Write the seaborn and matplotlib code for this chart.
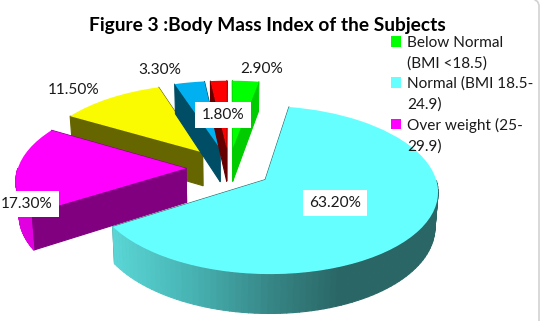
import numpy as np
import matplotlib
matplotlib.use("Agg")
import matplotlib.pyplot as plt
from matplotlib.collections import PolyCollection
from matplotlib.patches import Patch
from matplotlib.transforms import Transform
import seaborn as sns

legend_lines = ["Below Normal", "(BMI <18.5)", "Normal (BMI 18.5-", "24.9)", "Over weight (25-", "29.9)"]
values = [2.9, 63.2, 17.3, 11.5, 3.3, 1.8]
value_text = ["2.90%", "63.20%", "17.30%", "11.50%", "3.30%", "1.80%"]
top_colors = ["#00FF00", "#66FFFF", "#FF00FF", "#FAFA00", "#00B0F0", "#FF0000"]
side_colors = ["#00CC00", "#2A6666", "#800080", "#666600", "#004D66", "#660000"]
rim_colors = ["#00CC00", "#2A6666", "#E000E0", "#666600", "#004D66", "#660000"]

CX, CY, RX, RY, K, DEPTH, XS = 229.0, 168.0, 168.0, 80.0, 0.12, 34.0, 0.985


class Plane(Transform):
    input_dims = 2
    output_dims = 2

    def __init__(self, z=0.0):
        super().__init__()
        self.z = z

    def transform_non_affine(self, values):
        values = np.asarray(values, dtype=float)
        u, v = values[:, 0], values[:, 1]
        w = 1 + K * v
        sx = CX + RX * (1 - (1 - XS) * self.z) * u / w
        sy = CY + (-RY * v + DEPTH * self.z) / w
        return np.column_stack([sx, sy])


sns.set_theme(style="white")
plt.rcParams["font.family"] = ["Lato", "DejaVu Sans"]
fig = plt.figure(figsize=(5.4, 3.21), dpi=100, facecolor="white")
ax = fig.add_axes([0, 0, 1, 1])

wedges, _ = ax.pie(values, explode=[0.256] * len(values), colors=sns.color_palette(top_colors),
                   startangle=90, counterclock=False, radius=1.0)
ax.set_aspect("auto")
ax.set_xlim(0, 540)
ax.set_ylim(321, 0)
ax.axis("off")

top = Plane(0.0)
bottom = Plane(1.0)


def wall(points):
    """Quads hanging from a polyline given in the pie plane."""
    a = top.transform_non_affine(points)
    b = bottom.transform_non_affine(points)
    return [np.array([a[i], a[i + 1], b[i + 1], b[i]]) for i in range(len(points) - 1)]


def cyan_shade(x):
    xs = [110, 190, 270, 340, 440]
    r = np.interp(x, xs, [92, 72, 55, 42, 42])
    g = np.interp(x, xs, [216, 180, 135, 102, 102])
    return (r / 255, g / 255, g / 255)


order = [3, 4, 5, 0, 2, 1]
for z, i in enumerate(order):
    w = wedges[i]
    c = np.array(w.center)
    ang = np.radians(np.linspace(w.theta1, w.theta2, 120))
    rim = np.column_stack([c[0] + np.cos(ang), c[1] + np.sin(ang)])
    mask = np.sin(ang) < 0
    quads, faces = [], []
    # straight cut faces
    for a in (w.theta1, w.theta2):
        edge = np.array([np.cos(np.radians(a)), np.sin(np.radians(a))])
        q = wall(np.array([c, c + edge]))
        quads += q
        faces += [side_colors[i]]
    # curved outer face
    if mask.any():
        idx = np.where(mask)[0]
        q = wall(rim[idx[0]:idx[-1] + 1])
        quads += q
        if i == 1:
            faces += [cyan_shade(p[:, 0].mean()) for p in q]
        else:
            faces += [rim_colors[i]] * len(q)
    coll = PolyCollection(quads, facecolors=faces, edgecolors=faces, linewidths=0.8,
                          zorder=2 + z * 2, transform=ax.transData)
    ax.add_collection(coll)
    w.set_transform(top + ax.transData)
    w.set_zorder(3 + z * 2)
    w.set_linewidth(0)

label_xy = [(262, 69), (335, 203), (27, 204), (74, 90), (160, 70), (223, 115)]
boxed = [False, True, True, False, False, True]
for t, (x, y), b in zip(value_text, label_xy, boxed):
    kw = dict(bbox=dict(facecolor="white", edgecolor="none", boxstyle="square,pad=0.42")) if b else {}
    ax.text(x, y, t, ha="center", va="center", fontsize=11.1, color="#1a1a1a", zorder=30, **kw)

ax.text(267.5, 25, "Figure 3 :Body Mass Index of the Subjects", ha="center", va="center",
        fontsize=13.8, fontweight="bold", color="black", zorder=30)

blank = Patch(visible=False)
handles = [wedges[0], blank, wedges[1], blank, wedges[2], blank]
leg = ax.legend(handles, legend_lines, loc="upper left", bbox_to_anchor=(391 / 540, 1 - 36 / 321),
                bbox_transform=ax.transAxes, frameon=False, fontsize=11.1, handlelength=0.65,
                handleheight=0.65, handletextpad=0.38, labelspacing=0.40, borderpad=0, borderaxespad=0,
                labelcolor="#1a1a1a")
leg.set_zorder(40)

# faint frame of the embedded chart at the right edge
ax.plot([535, 537.5, 539, 539], [0, 1.5, 5, 321], color="#d2d2d2", lw=1.2, zorder=50, clip_on=True)

fig.savefig("out.png", dpi=100)
